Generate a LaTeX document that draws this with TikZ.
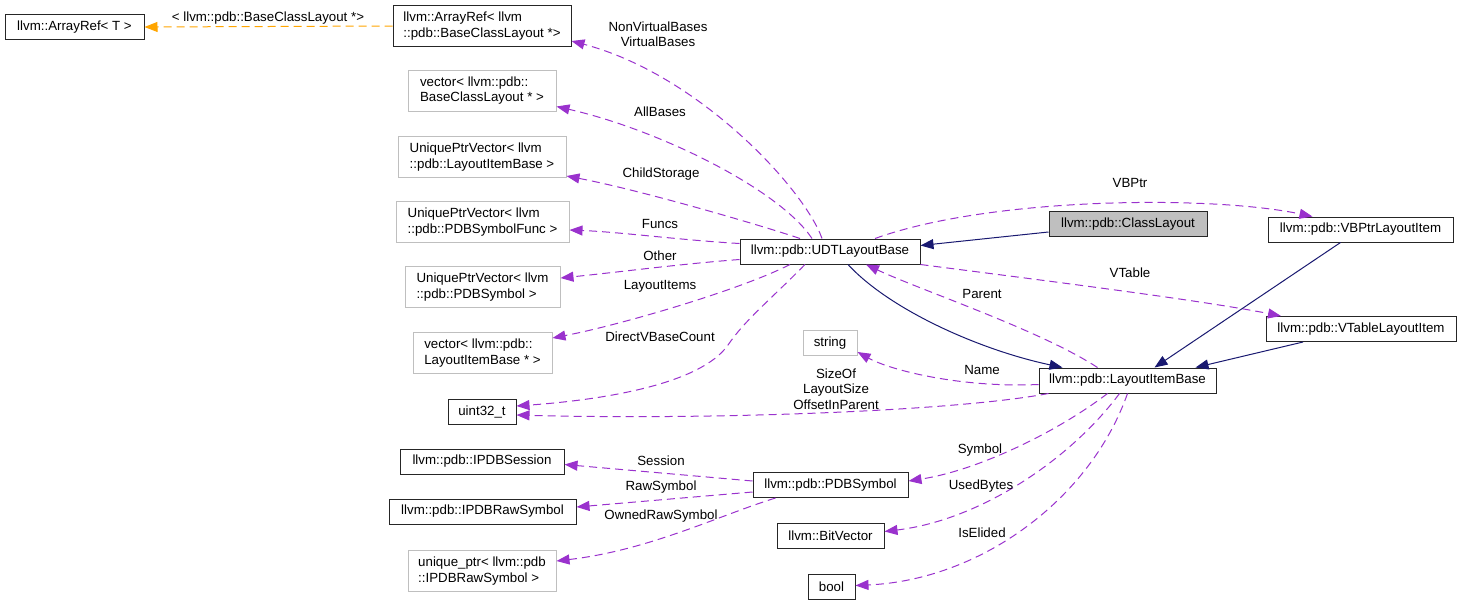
\documentclass[tikz,border=0pt]{standalone}
\usepackage{fontspec}
\setmainfont{Liberation Sans}
\usetikzlibrary{arrows.meta}
\definecolor{edgep}{HTML}{9A32CD}
\definecolor{navyc}{HTML}{191970}
\definecolor{orngc}{HTML}{FFA500}
\definecolor{gborder}{HTML}{BFBFBF}
\tikzset{
  base/.style={rectangle, line width=1pt, font=\fontsize{13.3}{15.5}\selectfont,
    inner xsep=0pt, inner ysep=0pt, align=left, minimum height=25pt},
  blk/.style={base, draw=black!85},
  gry/.style={base, draw=gborder},
  two/.style={minimum height=41pt},
  lbl/.style={font=\fontsize{13.3}{15.5}\selectfont, align=center, inner sep=0pt},
  tip/.style={-{Triangle[length=13pt,width=10pt]}},
  purp/.style={draw=edgep, line width=1pt, dash pattern=on 8pt off 5pt, tip},
  inh/.style={draw=navyc, line width=1pt, tip},
  orng/.style={draw=orngc, line width=1pt, dash pattern=on 8pt off 5pt, tip}
}
\begin{document}
\begin{tikzpicture}[x=1pt,y=-1pt]
\useasboundingbox (0,0) rectangle (1461,606);
% nodes
\node[blk, minimum width=139pt] (art) at (74.5,27) {llvm::ArrayRef< T >};
\node[blk, two, minimum width=178pt] (arb) at (482,26) {llvm::ArrayRef< llvm\\::pdb::BaseClassLayout *>};
\node[gry, two, minimum width=148pt] (vbc) at (482,90.5) {vector< llvm::pdb::\\BaseClassLayout * >};
\node[gry, two, minimum width=168pt] (uil) at (482,157) {UniquePtrVector< llvm\\::pdb::LayoutItemBase >};
\node[gry, two, minimum width=173pt] (upf) at (482.5,222) {UniquePtrVector< llvm\\::pdb::PDBSymbolFunc >};
\node[gry, two, minimum width=155pt] (ups) at (482.5,287) {UniquePtrVector< llvm\\::pdb::PDBSymbol >};
\node[gry, two, minimum width=139pt] (vli) at (482.5,353) {vector< llvm::pdb::\\LayoutItemBase * >};
\node[blk, minimum width=68pt] (u32) at (482,412) {uint32\_t};
\node[blk, minimum width=164pt] (ses) at (482,461.5) {llvm::pdb::IPDBSession};
\node[blk, minimum width=187pt] (raw) at (482.5,511.5) {llvm::pdb::IPDBRawSymbol};
\node[gry, two, minimum width=148pt] (upr) at (482,571) {unique\_ptr< llvm::pdb\\::IPDBRawSymbol >};
\node[blk, minimum width=180pt] (udt) at (830,251.5) {llvm::pdb::UDTLayoutBase};
\node[blk, fill=gborder, minimum width=158pt] (cls) at (1128,224) {llvm::pdb::ClassLayout};
\node[gry, minimum width=54pt] (str) at (830,343) {string};
\node[blk, minimum width=155pt] (pdb) at (830.5,485) {llvm::pdb::PDBSymbol};
\node[blk, minimum width=107pt] (bit) at (830.5,535.5) {llvm::BitVector};
\node[blk, minimum width=47pt] (boo) at (831.5,586.5) {bool};
\node[blk, minimum width=177pt] (lib) at (1127.5,380.5) {llvm::pdb::LayoutItemBase};
\node[blk, minimum width=185pt] (vbp) at (1360.5,229.5) {llvm::pdb::VBPtrLayoutItem};
\node[blk, minimum width=190pt] (vtb) at (1361,329) {llvm::pdb::VTableLayoutItem};
% orange template edge
\draw[orng] (arb.west) -- (art.east);
\node[lbl] (l0) at (268,18) {< llvm::pdb::BaseClassLayout *>};
% UDTLayoutBase members
\draw[purp] ([xshift=-8pt]udt.north) .. controls (805,190) and (700,75) .. ([yshift=6pt]arb.south east);
\node[lbl] (l1) at (658,34) {NonVirtualBases\\VirtualBases};
\draw[purp] ([xshift=-18pt]udt.north) .. controls (780,190) and (660,130) .. ([yshift=5pt]vbc.south east);
\node[lbl] (l2) at (660,112) {AllBases};
\draw[purp] ([xshift=-30pt]udt.north) .. controls (760,225) and (640,190) .. ([yshift=2pt]uil.south east);
\node[lbl] (l3) at (661,174) {ChildStorage};
\draw[purp] ([yshift=8pt]udt.west) .. controls (680,240) and (620,232) .. ([yshift=-8pt]upf.east);
\node[lbl] (l4) at (660,224) {Funcs};
\draw[purp] ([yshift=-8pt]udt.west) .. controls (680,264) and (620,272) .. ([yshift=9pt]ups.east);
\node[lbl] (l5) at (660,256) {Other};
\draw[purp] ([xshift=-40pt]udt.south) .. controls (740,290) and (620,325) .. ([yshift=15pt]vli.east);
\node[lbl] (l6) at (660,286) {LayoutItems};
\draw[purp] ([xshift=-25pt]udt.south) .. controls (770,300) and (745,320) .. (728,345) .. controls (700,385) and (600,400) .. ([yshift=6pt]u32.east);
\node[lbl] (l7) at (660,337) {DirectVBaseCount};
\draw[purp] ([xshift=45pt]udt.north) .. controls (990,197) and (1210,195) .. ([xshift=-48pt]vbp.north);
\node[lbl] (l8) at (1130,183) {VBPtr};
\draw[purp] (udt.south east) .. controls (1040,280) and (1200,300) .. ([xshift=-80pt]vtb.north);
\node[lbl] (l9) at (1130,273) {VTable};
% inheritance
\draw[inh] ([yshift=-8pt]cls.west) -- ([yshift=6pt]udt.east);
\draw[inh] ([xshift=18pt]udt.south) .. controls (890,310) and (980,350) .. ([xshift=-65pt]lib.north);
\draw[inh] ([xshift=-20pt]vbp.south) -- ([xshift=27pt]lib.north);
\draw[inh] ([xshift=-58pt]vtb.south) -- ([xshift=68pt]lib.north);
% LayoutItemBase members
\draw[purp] ([xshift=-30pt]lib.north) .. controls (1040,330) and (920,290) .. ([xshift=36pt]udt.south);
\node[lbl] (l10) at (982,294) {Parent};
\draw[purp] ([yshift=-4pt]lib.west) .. controls (960,388) and (890,370) .. ([yshift=-9pt]str.east);
\node[lbl] (l11) at (982,370) {Name};
\draw[purp] ([xshift=10pt]lib.south west) .. controls (950,412) and (700,420) .. ([yshift=-3pt]u32.east);
\node[lbl] (l12) at (836,389) {SizeOf\\LayoutSize\\OffsetInParent};
\draw[purp] ([xshift=-20pt]lib.south) .. controls (1060,430) and (980,470) .. ([yshift=4pt]pdb.east);
\node[lbl] (l13) at (980,450) {Symbol};
\draw[purp] ([xshift=-8pt]lib.south) .. controls (1070,460) and (980,520) .. ([yshift=4pt]bit.east);
\node[lbl] (l14) at (981,486) {UsedBytes};
\draw[purp] (lib.south) .. controls (1090,500) and (980,580) .. ([yshift=1pt]boo.east);
\node[lbl] (l15) at (982,533) {IsElided};
% PDBSymbol members
\draw[purp] ([yshift=4pt]pdb.west) -- ([yshift=-3pt]ses.east);
\node[lbl] (l16) at (661,461) {Session};
\draw[purp] ([yshift=-7pt]pdb.west) -- ([yshift=4.5pt]raw.east);
\node[lbl] (l17) at (661,487) {RawSymbol};
\draw[purp] ([xshift=-55pt]pdb.south) .. controls (720,515) and (650,550) .. ([yshift=10pt]upr.east);
\node[lbl] (l18) at (661,516) {OwnedRawSymbol};
\end{tikzpicture}
\end{document}
